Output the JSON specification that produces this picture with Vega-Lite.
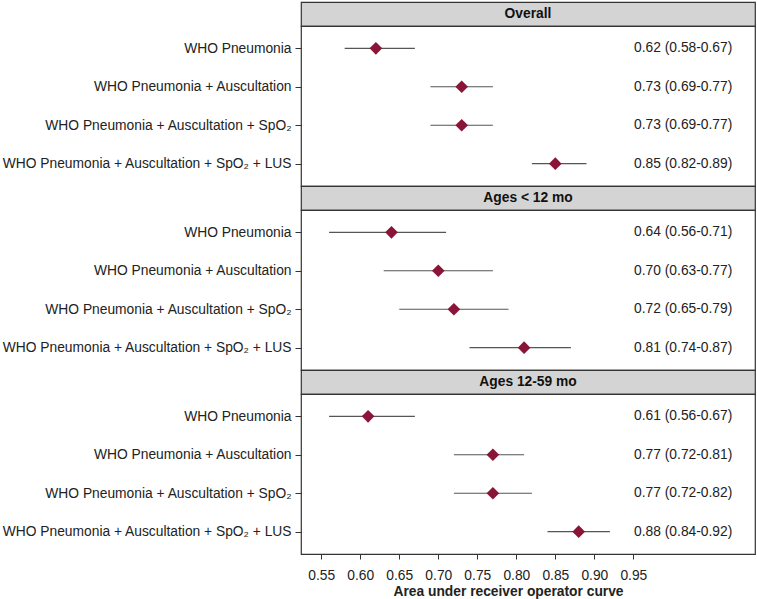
{
  "$schema": "https://vega.github.io/schema/vega-lite/v6.json",
  "padding": {"left": 0, "right": 1, "top": 1, "bottom": 2},
  "spacing": 0,
  "bounds": "flush",
  "config": {
    "font": "Liberation Sans",
    "view": {"stroke": "#333333", "strokeWidth": 1.2},
    "concat": {"spacing": 0},
    "axis": {"labelFont": "Liberation Sans", "titleFont": "Liberation Sans", "labelColor": "#222222", "titleColor": "#222222", "domain": false, "grid": false, "tickColor": "#333333", "labelLimit": 0}
  },
  "datasets": {
    "auc": [
      {"group": "Overall", "model": "WHO Pneumonia", "auc": 0.62, "lo": 0.58, "hi": 0.67, "label": "0.62 (0.58-0.67)"},
      {"group": "Overall", "model": "WHO Pneumonia + Auscultation", "auc": 0.73, "lo": 0.69, "hi": 0.77, "label": "0.73 (0.69-0.77)"},
      {"group": "Overall", "model": "WHO Pneumonia + Auscultation + SpO₂", "auc": 0.73, "lo": 0.69, "hi": 0.77, "label": "0.73 (0.69-0.77)"},
      {"group": "Overall", "model": "WHO Pneumonia + Auscultation + SpO₂ + LUS", "auc": 0.85, "lo": 0.82, "hi": 0.89, "label": "0.85 (0.82-0.89)"},
      {"group": "Ages < 12 mo", "model": "WHO Pneumonia", "auc": 0.64, "lo": 0.56, "hi": 0.71, "label": "0.64 (0.56-0.71)"},
      {"group": "Ages < 12 mo", "model": "WHO Pneumonia + Auscultation", "auc": 0.70, "lo": 0.63, "hi": 0.77, "label": "0.70 (0.63-0.77)"},
      {"group": "Ages < 12 mo", "model": "WHO Pneumonia + Auscultation + SpO₂", "auc": 0.72, "lo": 0.65, "hi": 0.79, "label": "0.72 (0.65-0.79)"},
      {"group": "Ages < 12 mo", "model": "WHO Pneumonia + Auscultation + SpO₂ + LUS", "auc": 0.81, "lo": 0.74, "hi": 0.87, "label": "0.81 (0.74-0.87)"},
      {"group": "Ages 12-59 mo", "model": "WHO Pneumonia", "auc": 0.61, "lo": 0.56, "hi": 0.67, "label": "0.61 (0.56-0.67)"},
      {"group": "Ages 12-59 mo", "model": "WHO Pneumonia + Auscultation", "auc": 0.77, "lo": 0.72, "hi": 0.81, "label": "0.77 (0.72-0.81)"},
      {"group": "Ages 12-59 mo", "model": "WHO Pneumonia + Auscultation + SpO₂", "auc": 0.77, "lo": 0.72, "hi": 0.82, "label": "0.77 (0.72-0.82)"},
      {"group": "Ages 12-59 mo", "model": "WHO Pneumonia + Auscultation + SpO₂ + LUS", "auc": 0.88, "lo": 0.84, "hi": 0.92, "label": "0.88 (0.84-0.92)"}
    ],
    "headers": [{"title": "Overall"}, {"title": "Ages < 12 mo"}, {"title": "Ages 12-59 mo"}]
  },
  "vconcat": [
    {
      "width": 454, "height": 24,
      "view": {"fill": "#d4d4d4", "stroke": "#333333", "strokeWidth": 1.2},
      "data": {"name": "headers"},
      "transform": [{"filter": "datum.title === 'Overall'"}],
      "mark": {"type": "text", "fontWeight": "bold", "fontSize": 13.8, "color": "#111111"},
      "encoding": {"text": {"field": "title"}}
    },
    {
      "width": 454, "height": 160,
      "data": {"name": "auc"},
      "transform": [{"filter": "datum.group === 'Overall'"}],
      "encoding": {
        "y": {"field": "model", "type": "ordinal", "sort": null, "scale": {"type": "point", "padding": 0.58}, "axis": {"title": null, "labelFontSize": 13.8, "labelPadding": 4, "tickSize": 6}},
        "x": {"field": "auc", "type": "quantitative", "scale": {"domain": [0.524, 1.106], "nice": false, "zero": false}, "axis": null}
      },
      "layer": [
        {"mark": {"type": "rule", "color": "#555555", "strokeWidth": 1.2}, "encoding": {"x": {"field": "lo", "type": "quantitative"}, "x2": {"field": "hi"}}},
        {"mark": {"type": "point", "shape": "diamond", "filled": true, "size": 160, "color": "#8a1538", "opacity": 1}},
        {"mark": {"type": "text", "align": "left", "fontSize": 13.8, "color": "#222222"}, "encoding": {"x": {"datum": 0.951}, "text": {"field": "label"}}}
      ]
    },
    {
      "width": 454, "height": 24,
      "view": {"fill": "#d4d4d4", "stroke": "#333333", "strokeWidth": 1.2},
      "data": {"name": "headers"},
      "transform": [{"filter": "datum.title === 'Ages < 12 mo'"}],
      "mark": {"type": "text", "fontWeight": "bold", "fontSize": 13.8, "color": "#111111"},
      "encoding": {"text": {"field": "title"}}
    },
    {
      "width": 454, "height": 160,
      "data": {"name": "auc"},
      "transform": [{"filter": "datum.group === 'Ages < 12 mo'"}],
      "encoding": {
        "y": {"field": "model", "type": "ordinal", "sort": null, "scale": {"type": "point", "padding": 0.58}, "axis": {"title": null, "labelFontSize": 13.8, "labelPadding": 4, "tickSize": 6}},
        "x": {"field": "auc", "type": "quantitative", "scale": {"domain": [0.524, 1.106], "nice": false, "zero": false}, "axis": null}
      },
      "layer": [
        {"mark": {"type": "rule", "color": "#555555", "strokeWidth": 1.2}, "encoding": {"x": {"field": "lo", "type": "quantitative"}, "x2": {"field": "hi"}}},
        {"mark": {"type": "point", "shape": "diamond", "filled": true, "size": 160, "color": "#8a1538", "opacity": 1}},
        {"mark": {"type": "text", "align": "left", "fontSize": 13.8, "color": "#222222"}, "encoding": {"x": {"datum": 0.951}, "text": {"field": "label"}}}
      ]
    },
    {
      "width": 454, "height": 24,
      "view": {"fill": "#d4d4d4", "stroke": "#333333", "strokeWidth": 1.2},
      "data": {"name": "headers"},
      "transform": [{"filter": "datum.title === 'Ages 12-59 mo'"}],
      "mark": {"type": "text", "fontWeight": "bold", "fontSize": 13.8, "color": "#111111"},
      "encoding": {"text": {"field": "title"}}
    },
    {
      "width": 454, "height": 160,
      "data": {"name": "auc"},
      "transform": [{"filter": "datum.group === 'Ages 12-59 mo'"}],
      "encoding": {
        "y": {"field": "model", "type": "ordinal", "sort": null, "scale": {"type": "point", "padding": 0.58}, "axis": {"title": null, "labelFontSize": 13.8, "labelPadding": 4, "tickSize": 6}},
        "x": {"field": "auc", "type": "quantitative", "scale": {"domain": [0.524, 1.106], "nice": false, "zero": false}, "axis": {"values": [0.55, 0.6, 0.65, 0.7, 0.75, 0.8, 0.85, 0.9, 0.95], "format": ".2f", "title": "Area under receiver operator curve", "titleFontSize": 13.8, "titleFontWeight": "bold", "labelFontSize": 13.8, "tickSize": 5, "labelPadding": 9, "titlePadding": 3, "titleX": 207, "titleAnchor": "middle"}}
      },
      "layer": [
        {"mark": {"type": "rule", "color": "#555555", "strokeWidth": 1.2}, "encoding": {"x": {"field": "lo", "type": "quantitative"}, "x2": {"field": "hi"}}},
        {"mark": {"type": "point", "shape": "diamond", "filled": true, "size": 160, "color": "#8a1538", "opacity": 1}},
        {"mark": {"type": "text", "align": "left", "fontSize": 13.8, "color": "#222222"}, "encoding": {"x": {"datum": 0.951}, "text": {"field": "label"}}}
      ]
    }
  ]
}
